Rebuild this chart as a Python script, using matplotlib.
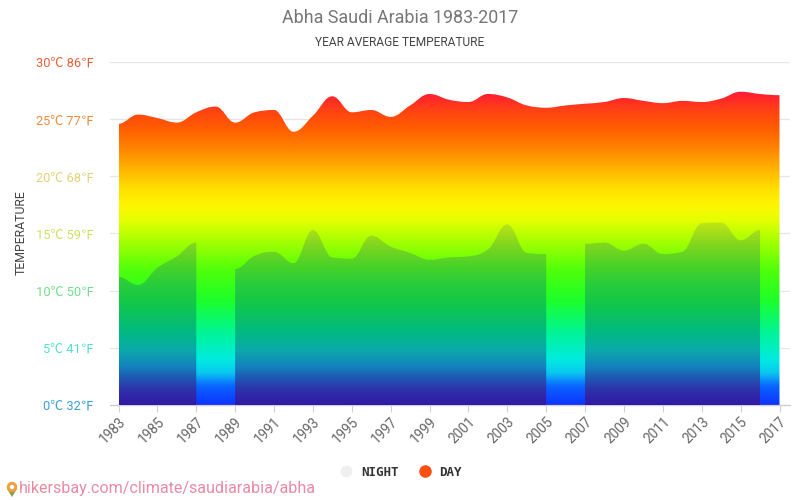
import matplotlib
matplotlib.use('Agg')
import matplotlib.pyplot as plt
import numpy as np
from matplotlib.colors import LinearSegmentedColormap
from matplotlib.lines import Line2D
from matplotlib.patches import Circle, PathPatch, Polygon
from matplotlib.path import Path

plt.rcParams['font.family'] = ['Roboto', 'Noto Sans CJK SC', 'DejaVu Sans']

years = np.arange(1983, 2018)
day = [24.6, 25.4, 25.1, 24.7, 25.6, 26.1, 24.7, 25.6, 25.8, 23.9, 25.3, 27.0,
       25.6, 25.8, 25.2, 26.2, 27.2, 26.7, 26.5, 27.2, 26.9, 26.2, 26.0, 26.2,
       26.35, 26.5, 26.85, 26.6, 26.4, 26.6, 26.5, 26.8, 27.4, 27.2, 27.1]
night = [11.2, 10.5, 12.0, 13.0, 14.2, None, 11.9, 13.05, 13.4, 12.4, 15.3, 12.9,
         12.8, 14.8, 13.85, 13.3, 12.7, 12.9, 13.0, 13.6, 15.8, 13.3, 13.2, None,
         14.1, 14.2, 13.5, 14.1, 13.2, 13.4, 15.9, 15.95, 14.4, 15.3, None]

tick_years = years[::2]
y_ticks = [0, 5, 10, 15, 20, 25, 30]
y_labels = ['0℃ 32℉', '5℃ 41℉', '10℃ 50℉', '15℃ 59℉', '20℃ 68℉', '25℃ 77℉', '30℃ 86℉']
y_colors = ['#3d9fd6', '#55dfcb', '#6fe08a', '#c9e262', '#e3d27a', '#ee8a3c', '#e2603a']

day_stops = [(0, '#0f32ff'), (1.6, '#0a64ff'), (2.8, '#0ac8f0'), (3.9, '#00ebe1'),
             (6.3, '#00f596'), (9.2, '#1eff28'), (11.8, '#50ff0a'), (14.4, '#aaff00'),
             (16.2, '#e6ff00'), (17.5, '#fff500'), (18.8, '#ffe100'), (20.6, '#ffb400'),
             (22.3, '#ff8700'), (24.05, '#ff5f00'), (25.5, '#ff4610'), (27.5, '#ff1838'),
             (30, '#ff0060')]
night_stops = [(0, '#3219a5'), (1.3, '#2d32aa'), (2.4, '#1e5ab4'), (3.3, '#1482be'),
               (4.8, '#0aaaaa'), (6.3, '#00b982'), (9, '#14c846'), (10.5, '#28cd3c'),
               (12, '#46d228'), (14, '#82d61e'), (16, '#c4e614'), (30, '#ffff00')]


def make_cmap(stops):
    return LinearSegmentedColormap.from_list('g', [(v / 30, c) for v, c in stops], N=512)


def smooth_area(xs, ys):
    # monotone bezier through the points, closed down to zero
    xs = np.array(xs, dtype=float)
    ys = np.array(ys, dtype=float)
    d = np.diff(ys)
    m = np.zeros(len(ys))
    for i in range(1, len(ys) - 1):
        if d[i - 1] * d[i] > 0:
            m[i] = np.sign(d[i]) * min(abs(d[i - 1] + d[i]) / 2, 2 * abs(d[i - 1]), 2 * abs(d[i]))
    verts = [(xs[0], 0), (xs[0], ys[0])]
    codes = [Path.MOVETO, Path.LINETO]
    for i in range(len(xs) - 1):
        verts += [(xs[i] + 0.4, ys[i] + 0.4 * m[i]), (xs[i + 1] - 0.4, ys[i + 1] - 0.4 * m[i + 1]),
                  (xs[i + 1], ys[i + 1])]
        codes += [Path.CURVE4] * 3
    verts += [(xs[-1], 0), (xs[0], 0)]
    codes += [Path.LINETO, Path.CLOSEPOLY]
    return Path(verts, codes)


def gradient_fill(ax, path, cmap, zorder):
    patch = PathPatch(path, transform=ax.transData, facecolor='none', edgecolor='none')
    ax.add_patch(patch)
    grad = np.linspace(1, 0, 1000).reshape(-1, 1)
    im = ax.imshow(grad, cmap=cmap, vmin=0, vmax=1, aspect='auto', zorder=zorder,
                   extent=[years[0], years[-1], 0, 30], interpolation='bilinear')
    im.set_clip_path(patch)


fig = plt.figure(figsize=(8, 5), dpi=100)
ax = fig.add_axes([110 / 800, 95 / 500, 680 / 800, 343 / 500])

gradient_fill(ax, smooth_area(years, day), make_cmap(day_stops), 2)

# night series has gaps, one filled piece per run of values
run_x, run_y = [], []
for yr, val in zip(years, list(night) + [None]):
    if val is None:
        if len(run_x) > 1:
            gradient_fill(ax, smooth_area(run_x, run_y), make_cmap(night_stops), 3)
        run_x, run_y = [], []
    else:
        run_x.append(yr)
        run_y.append(val)

px = (years[-1] - years[0]) / 661
ax.set_xlim(years[0] - 8.5 * px, years[-1] + 10.5 * px)
ax.set_ylim(0, 30)

ax.set_yticks(y_ticks)
ax.set_yticklabels(y_labels, fontsize=9.3)
for lab, col in zip(ax.get_yticklabels(), y_colors):
    lab.set_color(col)
ax.tick_params(axis='y', length=0, pad=11.5)
ax.grid(axis='y', color='#e6e6e6', linewidth=0.9, zorder=1)
ax.set_axisbelow(True)

ax.set_xticks(tick_years)
ax.set_xticklabels([str(y) for y in tick_years], rotation=45, ha='right', rotation_mode='anchor',
                   fontsize=9.8, color='#666666')
ax.tick_params(axis='x', length=5, width=0.8, color='#cfcfdc', pad=2)

for s in ['top', 'right', 'left']:
    ax.spines[s].set_visible(False)
ax.spines['bottom'].set_color('#ccccdd')
ax.spines['bottom'].set_linewidth(0.9)

fig.text(0.5, 1 - 18 / 500, 'Abha Saudi Arabia 1983-2017', ha='center', va='center',
         fontsize=12.9, color='#777777')
fig.text(0.5, 1 - 42 / 500, 'YEAR AVERAGE TEMPERATURE', ha='center', va='center',
         fontsize=8.6, color='#444444')
fig.text(21 / 800, 1 - 233 / 500, 'TEMPERATURE', ha='center', va='center', rotation=90,
         fontsize=8.8, color='#444444')

handles = [Line2D([], [], linestyle='none', marker='o', markersize=7.5, color='#efefef', label='NIGHT'),
           Line2D([], [], linestyle='none', marker='o', markersize=8, color='#fb5010', label='DAY')]
leg = fig.legend(handles=handles, loc='center', bbox_to_anchor=(398 / 800, 1 - 472 / 500), ncol=2,
                 frameon=False, handletextpad=0.15, columnspacing=1.15,
                 prop={'family': 'DejaVu Sans Mono', 'weight': 'bold', 'size': 9})
for t in leg.get_texts():
    t.set_color('#333333')

fig.text(19 / 800, 1 - 489 / 500, 'hikersbay.com/climate/saudiarabia/abha', ha='left', va='center',
         fontsize=11.6, color='#e98aa6')

# map pin next to the link
pin_ax = fig.add_axes([0, 0, 1, 1], facecolor='none')
pin_ax.set_xlim(0, 800)
pin_ax.set_ylim(500, 0)
pin_ax.axis('off')
pin_ax.add_patch(Polygon([[7, 489], [17, 489], [12, 497]], closed=True, facecolor='#8f9a55', edgecolor='none'))
pin_ax.add_patch(Circle((12, 487), 5.2, facecolor='#eda13c', edgecolor='none'))
pin_ax.add_patch(Circle((12, 487), 2.2, facecolor='white', edgecolor='none'))

fig.savefig('out.png', dpi=100)
